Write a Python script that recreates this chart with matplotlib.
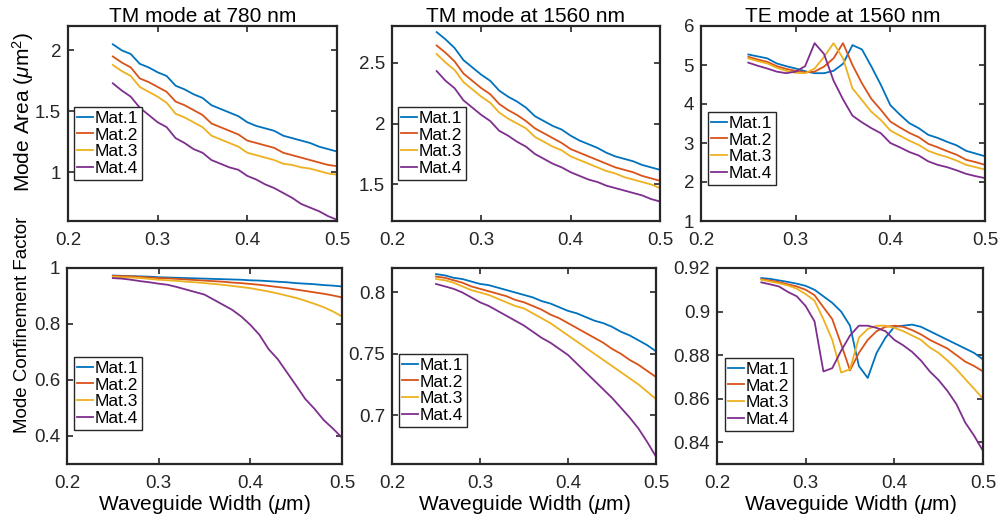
import matplotlib
matplotlib.use("Agg")
import matplotlib.pyplot as plt
import numpy as np

plt.rcParams['font.family'] = ['Liberation Sans', 'DejaVu Sans']
plt.rcParams['mathtext.fontset'] = 'custom'
plt.rcParams['mathtext.rm'] = 'Liberation Sans'
plt.rcParams['mathtext.it'] = 'Liberation Sans:italic'

width = [0.25, 0.26, 0.27, 0.28, 0.29, 0.30, 0.31, 0.32, 0.33, 0.34, 0.35, 0.36, 0.37,
         0.38, 0.39, 0.40, 0.41, 0.42, 0.43, 0.44, 0.45, 0.46, 0.47, 0.48, 0.49, 0.50]
labels = ["Mat.1", "Mat.2", "Mat.3", "Mat.4"]
colors = ["#0072BD", "#D95319", "#EDB120", "#7E2F8E"]
titles = ["TM mode at 780 nm", "TM mode at 1560 nm", "TE mode at 1560 nm"]

# Mode area, TM 780 nm
area_tm780_m1 = [2.05, 2.00, 1.97, 1.89, 1.86, 1.82, 1.79, 1.71, 1.68, 1.64, 1.61, 1.55, 1.52, 1.49, 1.46, 1.41, 1.38, 1.36, 1.34, 1.30, 1.28, 1.26, 1.24, 1.21, 1.19, 1.17]
area_tm780_m2 = [1.95, 1.90, 1.86, 1.77, 1.74, 1.70, 1.66, 1.58, 1.55, 1.51, 1.47, 1.40, 1.37, 1.34, 1.31, 1.26, 1.24, 1.22, 1.20, 1.16, 1.14, 1.12, 1.10, 1.08, 1.06, 1.05]
area_tm780_m3 = [1.88, 1.83, 1.79, 1.70, 1.66, 1.62, 1.57, 1.48, 1.45, 1.41, 1.37, 1.30, 1.27, 1.24, 1.21, 1.16, 1.14, 1.12, 1.10, 1.07, 1.06, 1.04, 1.03, 1.01, 0.99, 0.98]
area_tm780_m4 = [1.73, 1.67, 1.62, 1.53, 1.47, 1.41, 1.37, 1.28, 1.24, 1.19, 1.16, 1.10, 1.07, 1.04, 1.02, 0.97, 0.94, 0.90, 0.87, 0.83, 0.79, 0.74, 0.71, 0.68, 0.64, 0.61]

# Mode area, TM 1560 nm
area_tm1560_m1 = [2.75, 2.69, 2.62, 2.52, 2.46, 2.40, 2.35, 2.27, 2.22, 2.18, 2.13, 2.06, 2.02, 1.98, 1.95, 1.90, 1.86, 1.83, 1.80, 1.76, 1.73, 1.71, 1.69, 1.66, 1.64, 1.62]
area_tm1560_m2 = [2.64, 2.58, 2.51, 2.41, 2.35, 2.29, 2.24, 2.16, 2.11, 2.07, 2.02, 1.96, 1.92, 1.88, 1.84, 1.79, 1.76, 1.73, 1.70, 1.67, 1.64, 1.62, 1.60, 1.57, 1.55, 1.53]
area_tm1560_m3 = [2.57, 2.50, 2.44, 2.34, 2.28, 2.22, 2.17, 2.09, 2.04, 2.00, 1.96, 1.89, 1.85, 1.81, 1.78, 1.73, 1.70, 1.67, 1.64, 1.61, 1.59, 1.56, 1.54, 1.52, 1.50, 1.47]
area_tm1560_m4 = [2.43, 2.35, 2.29, 2.19, 2.13, 2.07, 2.02, 1.94, 1.90, 1.85, 1.81, 1.75, 1.71, 1.67, 1.64, 1.60, 1.57, 1.54, 1.52, 1.49, 1.47, 1.45, 1.43, 1.41, 1.38, 1.36]

# Mode area, TE 1560 nm
area_te1560_m1 = [5.27, 5.22, 5.17, 5.04, 4.97, 4.91, 4.84, 4.79, 4.79, 4.85, 5.03, 5.51, 5.40, 4.96, 4.49, 3.97, 3.73, 3.51, 3.38, 3.21, 3.13, 3.03, 2.94, 2.80, 2.73, 2.66]
area_te1560_m2 = [5.21, 5.14, 5.08, 4.97, 4.90, 4.85, 4.81, 4.83, 4.96, 5.17, 5.56, 5.00, 4.53, 4.13, 3.85, 3.55, 3.40, 3.26, 3.15, 2.98, 2.89, 2.79, 2.70, 2.57, 2.51, 2.44]
area_te1560_m3 = [5.17, 5.10, 5.04, 4.93, 4.85, 4.80, 4.79, 4.91, 5.21, 5.56, 5.17, 4.40, 4.10, 3.80, 3.59, 3.32, 3.19, 3.06, 2.95, 2.80, 2.71, 2.64, 2.55, 2.44, 2.38, 2.32]
area_te1560_m4 = [5.06, 4.98, 4.91, 4.83, 4.79, 4.83, 4.97, 5.56, 5.28, 4.60, 4.12, 3.70, 3.53, 3.38, 3.25, 3.00, 2.89, 2.77, 2.68, 2.53, 2.44, 2.38, 2.30, 2.21, 2.15, 2.10]

# Confinement factor, TM 780 nm
conf_tm780_m1 = [0.973, 0.972, 0.971, 0.970, 0.969, 0.967, 0.966, 0.965, 0.964, 0.963, 0.962, 0.961, 0.960, 0.959, 0.958, 0.956, 0.955, 0.953, 0.951, 0.949, 0.946, 0.944, 0.942, 0.939, 0.937, 0.934]
conf_tm780_m2 = [0.972, 0.971, 0.970, 0.968, 0.966, 0.964, 0.963, 0.961, 0.959, 0.957, 0.955, 0.953, 0.951, 0.948, 0.946, 0.943, 0.940, 0.936, 0.932, 0.928, 0.923, 0.918, 0.913, 0.908, 0.902, 0.895]
conf_tm780_m3 = [0.969, 0.967, 0.966, 0.964, 0.961, 0.958, 0.956, 0.954, 0.951, 0.949, 0.946, 0.943, 0.940, 0.936, 0.932, 0.928, 0.922, 0.916, 0.909, 0.901, 0.893, 0.883, 0.872, 0.860, 0.845, 0.827]
conf_tm780_m4 = [0.964, 0.962, 0.958, 0.953, 0.949, 0.944, 0.940, 0.932, 0.923, 0.914, 0.905, 0.887, 0.869, 0.851, 0.827, 0.797, 0.761, 0.710, 0.674, 0.627, 0.580, 0.532, 0.497, 0.457, 0.427, 0.394]

# Confinement factor, TM 1560 nm
conf_tm1560_m1 = [0.815, 0.814, 0.812, 0.811, 0.809, 0.807, 0.806, 0.804, 0.802, 0.800, 0.798, 0.796, 0.793, 0.791, 0.788, 0.785, 0.783, 0.780, 0.777, 0.775, 0.772, 0.768, 0.765, 0.761, 0.757, 0.752]
conf_tm1560_m2 = [0.813, 0.812, 0.810, 0.808, 0.805, 0.803, 0.801, 0.799, 0.797, 0.794, 0.792, 0.789, 0.786, 0.782, 0.779, 0.775, 0.771, 0.767, 0.763, 0.759, 0.754, 0.750, 0.745, 0.741, 0.736, 0.731]
conf_tm1560_m3 = [0.811, 0.810, 0.808, 0.805, 0.802, 0.800, 0.798, 0.795, 0.792, 0.789, 0.787, 0.783, 0.779, 0.775, 0.770, 0.765, 0.760, 0.755, 0.750, 0.745, 0.740, 0.735, 0.730, 0.725, 0.719, 0.713]
conf_tm1560_m4 = [0.807, 0.805, 0.803, 0.800, 0.796, 0.792, 0.789, 0.785, 0.781, 0.777, 0.773, 0.768, 0.763, 0.759, 0.754, 0.749, 0.742, 0.735, 0.728, 0.721, 0.714, 0.706, 0.698, 0.689, 0.678, 0.666]

# Confinement factor, TE 1560 nm
conf_te1560_m1 = [0.9154, 0.9150, 0.9143, 0.9136, 0.9128, 0.9118, 0.9100, 0.9070, 0.9040, 0.9000, 0.8935, 0.8750, 0.8695, 0.8810, 0.8880, 0.8930, 0.8935, 0.8940, 0.8930, 0.8910, 0.8890, 0.8870, 0.8850, 0.8830, 0.8810, 0.8780]
conf_te1560_m2 = [0.9149, 0.9142, 0.9135, 0.9125, 0.9115, 0.9100, 0.9075, 0.9020, 0.8965, 0.8850, 0.8730, 0.8810, 0.8870, 0.8910, 0.8930, 0.8935, 0.8930, 0.8915, 0.8895, 0.8870, 0.8850, 0.8830, 0.8800, 0.8770, 0.8750, 0.8725]
conf_te1560_m3 = [0.9146, 0.9138, 0.9130, 0.9120, 0.9105, 0.9080, 0.9050, 0.8965, 0.8870, 0.8720, 0.8735, 0.8880, 0.8920, 0.8935, 0.8935, 0.8925, 0.8910, 0.8890, 0.8870, 0.8835, 0.8810, 0.8775, 0.8735, 0.8690, 0.8645, 0.8600]
conf_te1560_m4 = [0.9134, 0.9125, 0.9115, 0.9090, 0.9070, 0.9025, 0.8955, 0.8725, 0.8740, 0.8820, 0.8890, 0.8935, 0.8935, 0.8925, 0.8910, 0.8870, 0.8845, 0.8815, 0.8775, 0.8725, 0.8685, 0.8635, 0.8575, 0.8490, 0.8430, 0.8360]

panels = [
    [area_tm780_m1, area_tm780_m2, area_tm780_m3, area_tm780_m4],
    [area_tm1560_m1, area_tm1560_m2, area_tm1560_m3, area_tm1560_m4],
    [area_te1560_m1, area_te1560_m2, area_te1560_m3, area_te1560_m4],
    [conf_tm780_m1, conf_tm780_m2, conf_tm780_m3, conf_tm780_m4],
    [conf_tm1560_m1, conf_tm1560_m2, conf_tm1560_m3, conf_tm1560_m4],
    [conf_te1560_m1, conf_te1560_m2, conf_te1560_m3, conf_te1560_m4],
]

W, H = 1003, 519
fig = plt.figure(figsize=(W / 100, H / 100), dpi=100)

# axes boxes in pixels: left, right, top, bottom
boxes = [(68, 337, 26, 221), (392, 660, 26, 221), (701, 985, 26, 221),
         (67, 342, 268, 464), (392, 656, 268, 464), (717, 983, 268, 464)]
ylims = [(0.6, 2.2), (1.2, 2.8), (1, 6), (0.3, 1.0), (0.66, 0.82), (0.83, 0.92)]
yticks = [[1, 1.5, 2], [1.5, 2, 2.5], [1, 2, 3, 4, 5, 6],
          [0.4, 0.6, 0.8, 1], [0.7, 0.75, 0.8], [0.84, 0.86, 0.88, 0.9, 0.92]]
yticklabels = [["1", "1.5", "2"], ["1.5", "2", "2.5"], ["1", "2", "3", "4", "5", "6"],
               ["0.4", "0.6", "0.8", "1"], ["0.7", "0.75", "0.8"],
               ["0.84", "0.86", "0.88", "0.9", "0.92"]]
# legend box upper-left corners in pixels
leg_pos = [(74, 107), (398, 107), (708, 112), (74, 357), (399, 354), (725, 358)]

axcol = '#262626'
for i, (l, r, t, b) in enumerate(boxes):
    ax = fig.add_axes([l / W, 1 - b / H, (r - l) / W, (b - t) / H])
    for s, c in zip(panels[i], colors):
        ax.plot(width, s, color=c, lw=1.3)
    ax.set_xlim(0.2, 0.5)
    ax.set_ylim(*ylims[i])
    ax.set_xticks([0.2, 0.3, 0.4, 0.5])
    ax.set_xticklabels(["0.2", "0.3", "0.4", "0.5"])
    ax.set_yticks(yticks[i])
    ax.set_yticklabels(yticklabels[i])
    ax.tick_params(direction='in', top=True, right=True, length=4, width=1.2,
                   labelsize=13.5, colors=axcol)
    ax.tick_params(axis='x', pad=8)
    ax.tick_params(axis='y', pad=5)
    for sp in ax.spines.values():
        sp.set_linewidth(1.6)
        sp.set_color(axcol)
    if i < 3:
        ax.set_title(titles[i], fontsize=15, color='black', pad=3)
    else:
        ax.set_xlabel(r"Waveguide Width ($\mu$m)", fontsize=15, color='black', labelpad=1)
    lx, ly = leg_pos[i]
    leg = ax.legend(labels, loc='upper left',
                    bbox_to_anchor=((lx - l) / (r - l), (b - ly) / (b - t)),
                    fontsize=12.5, handlelength=0.9, handletextpad=0.1,
                    labelspacing=0.1, borderpad=0.2, borderaxespad=0,
                    frameon=True, fancybox=False, framealpha=1)
    leg.get_frame().set_edgecolor(axcol)
    leg.get_frame().set_linewidth(1.0)

fig.text(23 / W, 1 - 112 / H, r"Mode Area ($\mu$m$^2$)", rotation=90,
         ha='center', va='center', fontsize=15)
fig.text(23 / W, 1 - 325 / H, "Mode Confinement Factor", rotation=90,
         ha='center', va='center', fontsize=13.5)

fig.savefig("out.png", dpi=100)
